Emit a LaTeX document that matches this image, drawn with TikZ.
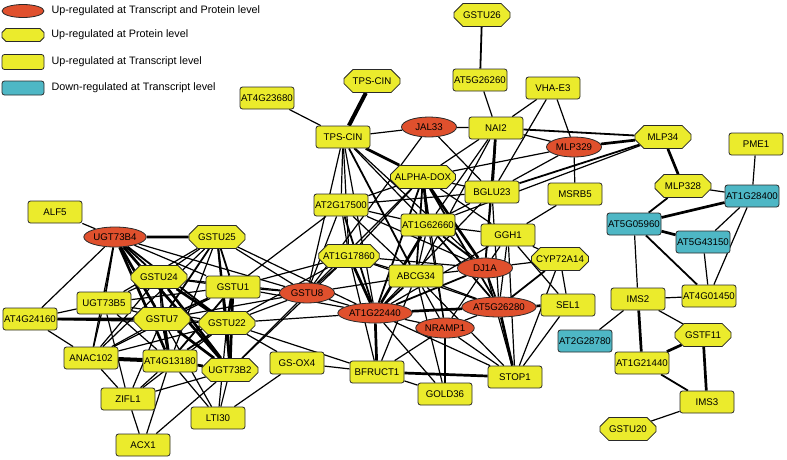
\documentclass[tikz,border=0pt]{standalone}
\usepackage{fontspec}
\setmainfont{Liberation Sans}
\usetikzlibrary{shapes.geometric,shapes.misc,backgrounds,positioning}
\definecolor{geneyellow}{HTML}{EBEB2C}
\definecolor{genered}{HTML}{E0502D}
\definecolor{genecyan}{HTML}{4EB7C5}
\definecolor{genedark}{HTML}{2A2A2A}
\newcommand\genefont{\fontsize{9.7}{10}\selectfont}

\begin{document}
\begin{tikzpicture}[x=1pt,y=-1pt,
    gene/.style={draw=genedark,line width=0.8pt,font=\genefont,inner sep=0.5pt},
    rectgene/.style={gene,rectangle,rounded corners=2.5pt,minimum width=54pt,minimum height=22pt,fill=geneyellow},
    octgene/.style={gene,chamfered rectangle,chamfered rectangle xsep=7pt,chamfered rectangle ysep=5pt,minimum width=56pt,minimum height=23pt,fill=geneyellow},
    ellgene/.style={gene,ellipse,minimum width=55pt,minimum height=20pt,fill=genered},
    downgene/.style={rectgene,fill=genecyan},
    legtext/.style={font=\fontsize{10.8}{12}\selectfont,inner sep=1pt,anchor=west},
    e1/.style={line width=1.2pt},
    e2/.style={line width=1.8pt},
    e3/.style={line width=2.7pt},
    e4/.style={line width=4pt}]
\useasboundingbox (0,0) rectangle (787,459);

% legend
\node[ellgene,minimum width=42pt,minimum height=13pt] (legA) at (23,11) {};
\node[inner sep=0pt,minimum width=42pt,minimum height=13pt] (legB) at (23,35) {};
\draw[draw=genedark,line width=0.8pt,fill=geneyellow] (legB) ++(-21,-2.5) -- ++(0,5) -- ++(4,4)
  -- ++(34,0) -- ++(4,-4) -- ++(0,-5) -- ++(-4,-4) -- ++(-34,0) -- cycle;
\node[rectgene,minimum width=42pt,minimum height=15pt] (legC) at (23,62) {};
\node[downgene,minimum width=42pt,minimum height=14pt] (legD) at (23,88) {};
\node[legtext,right=6pt of legA] (legAtext) {Up-regulated at Transcript and Protein level};
\node[legtext,right=6pt of legB] (legBtext) {Up-regulated at Protein level};
\node[legtext,right=6pt of legC] (legCtext) {Up-regulated at Transcript level};
\node[legtext,right=6pt of legD] (legDtext) {Down-regulated at Transcript level};

% genes
\node[octgene] (gstu26) at (482,15) {GSTU26};
\node[rectgene] (at5g26260) at (480,80) {AT5G26260};
\node[rectgene] (vhae3) at (553,88) {VHA-E3};
\node[octgene] (tpscino) at (372,81) {TPS-CIN};
\node[rectgene] (at4g23680) at (267,98) {AT4G23680};
\node[rectgene] (tpscin) at (343,137) {TPS-CIN};
\node[ellgene] (jal33) at (429,127) {JAL33};
\node[rectgene] (nai2) at (496,128) {NAI2};
\node[ellgene] (mlp329) at (574,147) {MLP329};
\node[octgene] (mlp34) at (663,137) {MLP34};
\node[rectgene] (pme1) at (756,144) {PME1};
\node[octgene] (mlp328) at (683,186) {MLP328};
\node[downgene] (at1g28400) at (752,196) {AT1G28400};
\node[rectgene] (msrb5) at (575,194) {MSRB5};
\node[rectgene] (bglu23) at (492,192) {BGLU23};
\node[octgene] (alphadox) at (423,177) {ALPHA-DOX};
\node[rectgene] (at2g17500) at (341,205) {AT2G17500};
\node[rectgene] (at1g62660) at (428,225) {AT1G62660};
\node[rectgene] (ggh1) at (508,235) {GGH1};
\node[octgene] (at1g17860) at (349,256) {AT1G17860};
\node[rectgene] (abcg34) at (416,276) {ABCG34};
\node[ellgene] (dj1a) at (485,268) {DJ1A};
\node[octgene] (cyp72a14) at (560,259) {CYP72A14};
\node[ellgene] (gstu8) at (307,293) {GSTU8};
\node[ellgene] (at1g22440) at (375,313) {AT1G22440};
\node[ellgene] (at5g26280) at (499,307) {AT5G26280};
\node[ellgene] (nramp1) at (445,328) {NRAMP1};
\node[rectgene] (sel1) at (568,305) {SEL1};
\node[rectgene] (gsox4) at (297,363) {GS-OX4};
\node[rectgene] (bfruct1) at (377,372) {BFRUCT1};
\node[rectgene] (stop1) at (515,377) {STOP1};
\node[rectgene] (gold36) at (445,394) {GOLD36};
\node[downgene] (at5g05960) at (634,224) {AT5G05960};
\node[downgene] (at5g43150) at (703,242) {AT5G43150};
\node[rectgene] (at4g01450) at (709,296) {AT4G01450};
\node[rectgene] (ims2) at (638,299) {IMS2};
\node[octgene] (gstf11) at (703,335) {GSTF11};
\node[downgene] (at2g28780) at (585,341) {AT2G28780};
\node[rectgene] (at1g21440) at (642,363) {AT1G21440};
\node[rectgene] (ims3) at (707,402) {IMS3};
\node[octgene] (gstu20) at (628,429) {GSTU20};
\node[rectgene] (alf5) at (55,212) {ALF5};
\node[ellgene] (ugt73b4) at (115,237) {UGT73B4};
\node[octgene] (gstu25) at (217,237) {GSTU25};
\node[octgene] (gstu24) at (159,277) {GSTU24};
\node[rectgene] (gstu1) at (233,287) {GSTU1};
\node[rectgene] (ugt73b5) at (104,303) {UGT73B5};
\node[rectgene] (at4g24160) at (30,319) {AT4G24160};
\node[octgene] (gstu7) at (162,319) {GSTU7};
\node[octgene] (gstu22) at (227,323) {GSTU22};
\node[rectgene] (anac102) at (91,358) {ANAC102};
\node[rectgene] (at4g13180) at (170,361) {AT4G13180};
\node[octgene] (ugt73b2) at (230,370) {UGT73B2};
\node[rectgene] (zifl1) at (128,399) {ZIFL1};
\node[rectgene] (lti30) at (218,418) {LTI30};
\node[rectgene] (acx1) at (143,445) {ACX1};

% interactions
\begin{scope}[on background layer]
\foreach \a/\b in {at5g26260/nai2,vhae3/nai2,vhae3/bglu23,vhae3/mlp329,at4g23680/tpscin,tpscin/jal33,
    jal33/nai2,jal33/bglu23,jal33/gstu8,nai2/mlp329,nai2/alphadox,nai2/at1g62660,nai2/abcg34,
    mlp329/msrb5,mlp329/bglu23,mlp329/alphadox,mlp34/at1g62660,mlp328/at1g28400,pme1/at1g28400,
    at1g28400/at5g43150,at1g28400/at4g01450,at5g05960/ims2,at5g43150/at4g01450,ims2/at4g01450,
    ims2/at2g28780,ims2/gstf11,ims3/gstu20,
    tpscin/at2g17500,tpscin/at1g17860,tpscin/gstu8,tpscin/at1g22440,tpscin/at1g62660,tpscin/dj1a,
    alphadox/at2g17500,alphadox/at1g17860,alphadox/ggh1,alphadox/bglu23,alphadox/nramp1,alphadox/gstu8,
    at2g17500/at1g17860,at2g17500/gstu8,at2g17500/abcg34,at2g17500/bglu23,at2g17500/at1g62660,
    at2g17500/gstu1,at2g17500/dj1a,
    at1g17860/gstu8,at1g17860/abcg34,at1g17860/dj1a,at1g17860/at5g26280,at1g17860/bfruct1,
    at1g62660/abcg34,at1g62660/ggh1,at1g62660/bglu23,at1g62660/nramp1,
    abcg34/dj1a,abcg34/at5g26280,abcg34/nramp1,abcg34/stop1,abcg34/gold36,abcg34/bfruct1,abcg34/gstu8,
    dj1a/nramp1,dj1a/ggh1,dj1a/bglu23,dj1a/cyp72a14,dj1a/stop1,
    ggh1/at5g26280,ggh1/stop1,ggh1/msrb5,ggh1/cyp72a14,ggh1/sel1,ggh1/at1g22440,
    bglu23/at5g26280,bglu23/at1g22440,cyp72a14/sel1,cyp72a14/stop1,sel1/stop1,
    at5g26280/nramp1,nramp1/stop1,nramp1/bfruct1,nramp1/gold36,nramp1/at1g22440,
    at1g22440/gold36,at1g22440/stop1,at1g22440/gstu8,bfruct1/gold36,bfruct1/gsox4,
    alf5/ugt73b4,ugt73b4/gstu1,ugt73b4/at4g24160,ugt73b4/anac102,ugt73b4/gstu8,
    gstu25/gstu24,gstu25/at4g13180,gstu25/ugt73b5,gstu25/anac102,gstu25/gstu8,gstu25/at1g22440,
    gstu24/gstu1,gstu24/gstu7,gstu24/anac102,gstu24/ugt73b5,gstu24/gstu8,
    gstu1/ugt73b5,gstu1/anac102,gstu1/gstu8,gstu1/at1g17860,gstu1/at1g22440,
    ugt73b5/at4g24160,ugt73b5/gstu7,ugt73b5/anac102,ugt73b5/at4g13180,ugt73b5/gstu22,ugt73b5/zifl1,
    at4g24160/anac102,at4g24160/gstu22,
    gstu7/gstu22,gstu7/anac102,gstu7/zifl1,gstu7/gstu8,gstu7/lti30,
    gstu22/anac102,gstu22/zifl1,gstu22/lti30,gstu22/gstu8,gstu22/at1g22440,gstu22/bfruct1,
    gstu22/gsox4,gstu22/at1g17860,
    anac102/zifl1,at4g13180/zifl1,at4g13180/acx1,at4g13180/lti30,
    ugt73b2/zifl1,ugt73b2/lti30,ugt73b2/gstu8,ugt73b2/at1g17860,ugt73b2/acx1,
    zifl1/acx1,gsox4/lti30}
  \draw[e1] (\a) -- (\b);
\foreach \a/\b in {gstu26/at5g26260,nai2/mlp34,nai2/dj1a,mlp34/bglu23,mlp328/at5g05960,
    at5g05960/at4g01450,at1g21440/ims3,tpscin/abcg34,
    alphadox/abcg34,alphadox/at1g22440,alphadox/at5g26280,at2g17500/at1g22440,
    at1g62660/dj1a,at1g62660/at5g26280,abcg34/at1g22440,dj1a/at1g22440,dj1a/at5g26280,
    cyp72a14/at5g26280,
    ugt73b4/gstu24,ugt73b4/gstu22,ugt73b4/ugt73b5,
    gstu25/gstu1,gstu25/gstu7,gstu25/gstu22,gstu25/ugt73b2,gstu24/at4g13180,
    gstu1/gstu7,gstu1/at4g13180,gstu22/at4g13180}
  \draw[e2] (\a) -- (\b);
\foreach \a/\b in {mlp329/mlp34,nai2/bglu23,mlp34/mlp328,at1g28400/at5g05960,at5g05960/at5g43150,
    ims2/at1g21440,gstf11/at1g21440,gstf11/ims3,
    tpscin/alphadox,alphadox/at1g62660,alphadox/dj1a,at1g17860/at1g22440,at1g62660/at1g22440,
    sel1/at5g26280,at5g26280/stop1,at5g26280/at1g22440,at1g22440/bfruct1,bfruct1/stop1,
    ugt73b4/gstu25,ugt73b4/gstu7,ugt73b4/at4g13180,ugt73b4/ugt73b2,
    gstu24/gstu22,gstu24/ugt73b2,gstu1/gstu22,gstu1/ugt73b2,at4g24160/gstu7,
    gstu7/at4g13180,gstu7/ugt73b2,gstu22/ugt73b2,at4g13180/ugt73b2}
  \draw[e3] (\a) -- (\b);
\foreach \a/\b in {tpscino/tpscin,anac102/at4g13180}
  \draw[e4] (\a) -- (\b);
\end{scope}
\end{tikzpicture}
\end{document}
